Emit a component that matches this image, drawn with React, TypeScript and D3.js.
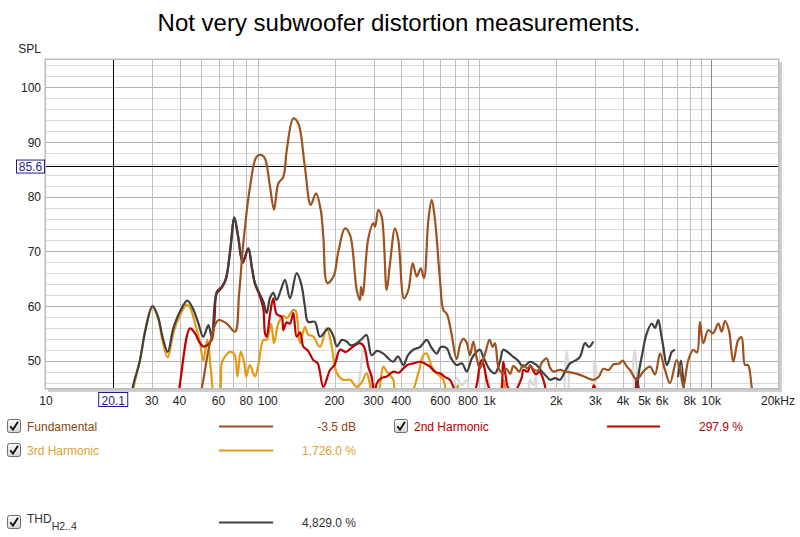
import React from "react";
import * as d3 from "d3";

type Pt = [number, number] | null;

const TITLE = "Not very subwoofer distortion measurements.";

const fundamental: Pt[] = [
  [48, 42], [50.4, 45], [54.9, 53.2], [59.8, 57.4], [65.3, 56.8], [71.2, 55.3], [74.2, 62], [77.6, 71.5],
  [83.2, 81.8], [89.1, 87.3], [93.9, 87.6], [97.2, 87.0], [102.4, 81.8], [106.7, 77.6], [111.6, 82.4],
  [117.5, 83.6], [121.8, 88.5], [130.4, 94.3], [137.3, 93.4], [147, 85.5], [156.2, 78.5], [165.1, 80.6],
  [173.3, 77.6], [178.1, 72.7], [185.6, 64.2], [198, 65.4], [208, 69.9], [223, 74.2], [235, 73.0],
  [252, 62.9], [260.6, 61.1], [263.4, 63.5], [268, 62.0], [284.1, 72.4], [299.2, 75.1], [305, 74.5],
  [315.1, 77.6], [326.6, 76.3], [343.9, 62.9], [355.9, 67.8], [374.8, 74.2], [387.9, 72.1], [411.7, 61.4],
  [430.5, 62.9], [450.6, 67.8], [469.7, 65.4], [489.6, 66.9], [506.7, 65.1], [530, 75.7], [549, 79.4],
  [568, 75.7], [598, 64.8], [619, 59.3], [643, 58.5], [670, 55.5], [711, 50.3], [740, 53.2], [762, 54.0],
  [789, 53.3], [817, 51.0], [845, 53.5], [875, 50.5], [906, 48.6], [960, 51.6], [1000, 53.8], [1035, 52.5],
  [1059, 53.2], [1100, 48.6], [1140, 47.8], [1190, 48.5], [1240, 47.6], [1280, 49.0], [1320, 48.6],
  [1360, 48.0], [1420, 49.2], [1476, 48.6], [1530, 49.0], [1580, 48.4], [1660, 48.2], [1720, 49.6],
  [1811, 50.4], [1870, 48.8], [1940, 48.0], [2080, 48.3], [2200, 48.0], [2350, 47.8], [2559, 47.4],
  [2700, 47.0], [2939, 46.5], [3100, 47.0], [3260, 48.5], [3450, 48.3], [3614, 49.3], [3850, 49.5],
  [3990, 50.0], [4150, 49.0], [4302, 48.3], [4612, 46.5], [4940, 48.0], [5295, 48.9], [5577, 47.5],
  [5875, 51.3], [6186, 48.3], [6516, 45.9], [6983, 50.1], [7228, 48.5], [7482, 45.2], [7880, 50.1],
  [8299, 52.0], [8626, 51.5], [8892, 57.1], [9205, 53.2], [9698, 55.6], [10184, 55.0], [10760, 56.8],
  [11146, 55.3], [11535, 57.3], [12022, 55.5], [12571, 49.8], [13240, 53.8], [13709, 54.3], [14196, 49.2],
  [14650, 49.2], [15222, 45.2], [15740, 42],
];

const harmonic2: Pt[] = [
  [38.5, 42], [39.9, 45], [44.6, 55.9], [47.0, 55.0], [49.0, 53.5], [51.2, 52.6], [53.2, 52.8], [55.9, 53.8],
  [57.5, 57.5], [58.9, 62.3], [62.0, 63.3], [64.8, 64.9], [67.6, 69.8], [70.7, 76.0], [73.4, 72.8],
  [77.1, 67.9], [81.7, 70.4], [84.9, 66.8], [87.6, 64.0], [91.3, 62.2], [95.5, 59.5], [97.2, 55],
  [98.9, 54.4], [102.4, 58.5], [105.9, 61.4], [109.7, 58.5], [115.6, 58.0], [117.5, 55.6], [121.5, 57],
  [126, 56.8], [130.4, 58.7], [135, 54.4], [140, 55.2], [144.6, 52.6], [152, 51.8], [160.5, 50.1],
  [168, 49.5], [178.1, 45.2], [190.9, 48.3], [200, 49.2], [211.8, 52.0], [225, 51.6], [243, 52.6],
  [260.6, 53.2], [272, 52.5], [284.1, 48.9], [294, 47.1], [300, 44.5], [305, 43], [309.9, 45.8],
  [325, 46.8], [343.9, 47.1], [368, 48.0], [390, 47.8], [409, 48.6], [430, 49.3], [453, 49.5], [486, 49.8],
  [510, 49.5], [539, 48.9], [570, 47.9], [598, 47.7], [630, 47], [663, 46.5], [690, 45], [720, 43],
  [830, 43], [880, 46], [906, 49.5], [922, 50.1], [945, 49], [970, 46.5], [1005, 44.5], [1050, 43],
  [1120, 44], [1153, 49.8], [1185, 47], [1216, 45], [1300, 44.5], [1400, 47], [1420, 48.3], [1490, 48.0],
  [1523, 49.2], [1560, 48.5], [1620, 47.5], [1680, 48.0], [1750, 46.5], [1811, 44], [1900, 42],
  [2800, 42], [2950, 45.5], [3050, 44], [3150, 42], [4400, 42], [4612, 46.8], [4800, 42],
];

const harmonic3: Pt[] = [
  [24.3, 42], [24.8, 45], [26.5, 50], [28.2, 56], [30.2, 59.8], [32.0, 57.8], [33.7, 53.2], [35.4, 50.6],
  [37.5, 55.0], [40.2, 58.3], [43.0, 60.2], [44.5, 59.8], [47.0, 56.8], [49.5, 53.2], [51.2, 50.0],
  [53.4, 53.8], [55.5, 48], [57.5, 43], [60, 42], [61.5, 46], [62.0, 49.5], [64.0, 50.7], [67.6, 51.6],
  [70.7, 51.2], [73.0, 47.1], [75.5, 51.6], [78.0, 50.0], [80.0, 47.1], [83.0, 49.2], [87.6, 47.1],
  [90.5, 49.0], [95.5, 53.8], [98.9, 53.8], [103.5, 56.8], [106.7, 53.2], [111.6, 56.8], [117.5, 58.2],
  [122, 57.8], [130.4, 59.3], [134, 59.0], [139.8, 53.2], [147, 56.2], [152, 54.8], [160.5, 54.4],
  [172, 52.5], [184.5, 55.9], [194.3, 52.6], [205, 47.7], [219, 46.5], [235, 46.5], [252, 45.2], [265, 46],
  [279, 47.7], [289, 45.6], [300, 43], [315, 44], [332, 48.9], [344, 48.0], [368, 46.5], [380, 43],
  [430, 43], [480, 48], [503, 51.0], [521, 51.3], [549, 48.9], [578, 47.7], [619, 46.5], [640, 44],
  [680, 42], [720, 45.5], [745, 42], [1120, 42], [1160, 46.5], [1200, 42],
];

const thd: Pt[] = [
  [24.3, 42], [24.6, 45], [26.5, 50], [28.2, 56], [30.2, 60.0], [32.0, 58], [33.7, 54], [35.4, 51.6],
  [37.5, 55.9], [40.2, 59], [43.4, 61.0], [46.0, 59.5], [48.5, 57], [51.2, 54.4], [54.0, 56.5], [55.9, 54.4],
  [58.9, 62.6], [62.0, 63.5], [64.8, 65.1], [67.6, 70], [70.7, 76.2], [73.4, 73], [77.1, 68.1], [81.7, 70.6],
  [84.9, 67], [87.6, 64.2], [91.3, 62.5], [95.5, 60.8], [98.9, 58.7], [102.4, 61.5], [105.9, 62.4],
  [109.7, 61.1], [114.7, 63], [119.6, 64.8], [126, 61.4], [135, 66.0], [142, 63.8], [147, 60], [152, 57.1],
  [163, 57.1], [172, 54.4], [188, 55.9], [198, 54.4], [205, 52.6], [216, 53.8], [227, 53.5], [237, 52.8],
  [252, 53.2], [266, 54], [279, 54.7], [294, 51.0], [311, 51.8], [332, 51.3], [348, 50.5], [368, 49.8],
  [387, 50.8], [409, 49.2], [429, 51], [453, 52.0], [486, 52.5], [521, 53.8], [545, 52.5], [578, 51.3],
  [604, 52.5], [641, 52.3], [670, 50.5], [711, 49.2], [752, 49.5], [789, 48.0], [834, 50.5], [875, 51.6],
  [906, 52.0], [938, 50.7], [1005, 48.3], [1059, 47.7], [1115, 49.8], [1153, 52], [1212, 51.5],
  [1280, 50.7], [1345, 50], [1420, 48.9], [1523, 49.8], [1588, 49.5], [1660, 48.9], [1725, 48],
  [1811, 47.1], [1875, 46.5], [1974, 46.8], [2080, 46.5], [2190, 48.0], [2307, 49.5], [2430, 50],
  [2559, 50.7], [2696, 53.2], [2810, 52.5], [2938, 53.5], null,
  [4600, 42], [4690, 47.1], [4873, 51], [5117, 55.0], [5390, 56.8], [5577, 56], [5770, 57.4], [5935, 55],
  [6077, 52.6], [6296, 49.2], [6446, 50], [6633, 51.6], [6863, 52.0], null,
  [7079, 47], [7305, 50], [7534, 44],
];

const harmonic4: Pt[] = [
  [250, 42], [262, 48], [270, 52], [280, 50], [290, 47], [300, 42], [650, 42], [711, 46.8], [750, 45.5],
  [790, 46.5], [830, 42], [930, 42], [960, 47.5], [1000, 46], [1030, 42], [1450, 42], [1523, 46.5],
  [1580, 45.5], [1620, 47], [1680, 42], [2100, 42], [2190, 48], [2230, 51.6], [2280, 48], [2330, 42],
  [2880, 42], [2960, 50], [3020, 49], [3100, 42], [4300, 42], [4450, 50], [4520, 52], [4600, 49], [4700, 42],
];

const xTicks: [number, string][] = [
  [10, "10"], [30, "30"], [40, "40"], [60, "60"], [80, "80"], [100, "100"], [200, "200"], [300, "300"],
  [400, "400"], [600, "600"], [800, "800"], [1000, "1k"], [2000, "2k"], [3000, "3k"], [4000, "4k"],
  [5000, "5k"], [6000, "6k"], [8000, "8k"], [10000, "10k"], [20000, "20kHz"],
];
const yTicks = [50, 60, 70, 80, 90, 100];
const cursorFreq = 20.1;
const cursorLevel = 85.6;

const legendNames = ["Fundamental", "2nd Harmonic", "3rd Harmonic", "THD"];
const legendValues = ["-3.5 dB", "297.9 %", "1,726.0 %", "4,829.0 %"];

const C = {
  fund: "#9e521f",
  h2: "#c00000",
  h3: "#e39a14",
  thd: "#404040",
  h4: "#dadada",
};

const FONT = "'Liberation Sans', Arial, sans-serif";

const L = 46, R = 778, T = 60, B = 388;

function CheckBox({ x, y }: { x: number; y: number }) {
  return (
    <g transform={`translate(${x},${y})`}>
      <rect x={0.5} y={0.5} width={13} height={13} rx={2} fill="url(#cbg)" stroke="#6e6e6e" />
      <path d="M3.3,7.2 L6,10.6 L11,2.8" fill="none" stroke="#111" strokeWidth={1.8} />
    </g>
  );
}

export default function App() {
  const x = d3.scaleLog().domain([10, 20000]).range([L, R]);
  const y = d3.scaleLinear().domain([45, 105]).range([B, T]);

  const line = d3
    .line<Pt>()
    .defined((d) => d !== null)
    .x((d) => x((d as [number, number])[0]))
    .y((d) => y((d as [number, number])[1]))
    .curve(d3.curveCatmullRom.alpha(0.5));

  const vGrid: number[] = [];
  for (let d = 10; d <= 1000; d *= 10) {
    for (let k = 2; k <= 9; k++) vGrid.push(k * d);
  }
  vGrid.push(10000);
  const hGrid: number[] = d3.range(46, 105, 2);

  const series: { data: Pt[]; color: string }[] = [
    { data: harmonic4, color: C.h4 },
    { data: harmonic3, color: C.h3 },
    { data: harmonic2, color: C.h2 },
    { data: thd, color: C.thd },
    { data: fundamental, color: C.fund },
  ];

  const cx = x(cursorFreq);
  const cy = y(cursorLevel);

  const legendRows = [
    { col: 0, row: 426, name: legendNames[0], val: legendValues[0], color: C.fund, text: "#8b4513", valColor: "#8b4513" },
    { col: 1, row: 426, name: legendNames[1], val: legendValues[1], color: C.h2, text: "#b00000", valColor: "#b00000" },
    { col: 0, row: 450, name: legendNames[2], val: legendValues[2], color: C.h3, text: "#e0a030", valColor: "#e0a030" },
    { col: 0, row: 522, name: legendNames[3], val: legendValues[3], color: C.thd, text: "#333", valColor: "#333" },
  ];

  return (
    <svg
      width={800}
      height={537}
      style={{ position: "absolute", left: 0, top: 0, background: "#fff" }}
      fontFamily={FONT}
    >
      <defs>
        <clipPath id="plotclip">
          <rect x={L} y={T} width={R - L} height={B - T} />
        </clipPath>
        <linearGradient id="cbg" x1="0" y1="0" x2="0" y2="1">
          <stop offset="0" stopColor="#fbfbfb" />
          <stop offset="1" stopColor="#d4d4d4" />
        </linearGradient>
      </defs>
      <rect x={0} y={0} width={800} height={537} fill="#fff" />

      <text x={399} y={31} textAnchor="middle" fontSize={24} fill="#000">
        {TITLE}
      </text>

      {/* frame shadow */}
      <rect x={L + 2} y={T + 2} width={R - L + 2} height={B - T + 2} fill="#cfcfcf" />
      <rect x={L - 1.5} y={T - 1.5} width={R - L + 3} height={B - T + 3} fill="#bdbdbd" />
      <rect x={L} y={T} width={R - L} height={B - T} fill="#fff" />

      {/* grid */}
      <g>
        {hGrid.map((v) => (
          <line
            key={"h" + v}
            x1={L}
            x2={R}
            y1={Math.round(y(v)) + 0.5}
            y2={Math.round(y(v)) + 0.5}
            stroke={v % 10 === 0 ? "#b0b0b0" : "#dcdcdc"}
          />
        ))}
        {vGrid.map((f) => {
          const major = f === 100 || f === 1000 || f === 10000;
          return (
            <line
              key={"v" + f}
              x1={Math.round(x(f)) + 0.5}
              x2={Math.round(x(f)) + 0.5}
              y1={T}
              y2={B}
              stroke={major ? "#8a8a8a" : "#c0c0c0"}
            />
          );
        })}
      </g>

      {/* cursors */}
      <line x1={Math.round(cx) + 0.5} x2={Math.round(cx) + 0.5} y1={T} y2={B} stroke="#000" />
      <line x1={L} x2={R} y1={Math.round(cy) + 0.5} y2={Math.round(cy) + 0.5} stroke="#000" />

      {/* traces */}
      <g clipPath="url(#plotclip)">
        {series.map((s, i) => (
          <path key={i} d={line(s.data) || ""} fill="none" stroke={s.color} strokeWidth={2.2} strokeLinejoin="round" />
        ))}
      </g>

      {/* y axis */}
      <text x={41} y={53} textAnchor="end" fontSize={12} fill="#222">
        SPL
      </text>
      {yTicks.map((v) => (
        <text key={v} x={41} y={y(v) + 4.5} textAnchor="end" fontSize={12} fill="#222">
          {v}
        </text>
      ))}
      <rect x={16.5} y={cy - 6} width={28} height={13} fill="#fff" stroke="#1c1c8c" />
      <text x={30.5} y={cy + 4.5} textAnchor="middle" fontSize={12} fill="#1c1c8c">
        {cursorLevel.toFixed(1)}
      </text>

      {/* x axis */}
      {xTicks.map(([f, label]) => (
        <text key={f} x={x(f)} y={405} textAnchor="middle" fontSize={12} fill="#222">
          {label}
        </text>
      ))}
      <rect x={cx - 14.5} y={392.5} width={29} height={14} fill="#fff" stroke="#1c1c8c" />
      <text x={cx} y={404.5} textAnchor="middle" fontSize={12} fill="#1c1c8c">
        {cursorFreq.toFixed(1)}
      </text>

      {/* legend */}
      {legendRows.map((r, i) => {
        const bx = r.col === 0 ? 7 : 394;
        const tx = r.col === 0 ? 27 : 414;
        const lx1 = r.col === 0 ? 219 : 607;
        const lx2 = r.col === 0 ? 273 : 660;
        const vx = r.col === 0 ? 356 : 743;
        const isTHD = r.name === "THD";
        return (
          <g key={i}>
            <CheckBox x={bx} y={r.row - 7} />
            {isTHD ? (
              <text x={tx} y={r.row + 1} fontSize={12} fill={r.text}>
                THD
                <tspan fontSize={10.5} dy={6.5}>
                  H2..4
                </tspan>
              </text>
            ) : (
              <text x={tx} y={r.row + 4.5} fontSize={12} fill={r.text}>
                {r.name}
              </text>
            )}
            <line x1={lx1} x2={lx2} y1={r.row + 0.5} y2={r.row + 0.5} stroke={r.color} strokeWidth={2} />
            <text x={vx} y={r.row + 4.5} textAnchor="end" fontSize={12} fill={r.valColor}>
              {r.val}
            </text>
          </g>
        );
      })}
    </svg>
  );
}
